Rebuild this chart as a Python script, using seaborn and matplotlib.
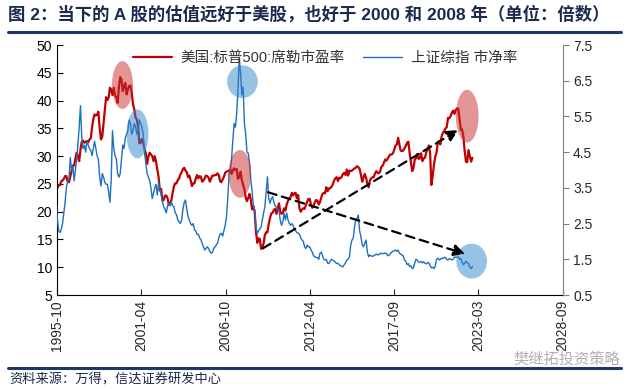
import numpy as np
import pandas as pd
import matplotlib
matplotlib.use("Agg")
import matplotlib.pyplot as plt
import matplotlib.dates as mdates
from matplotlib.patches import Ellipse
import seaborn as sns

# monthly data, 1995-10 .. 2022-11
cape = [
    23.9, 24.3, 24.8,
    24.8, 25.5, 25.6, 25.9, 26.4, 26.4, 25.4, 25.3, 26.3, 27.2, 28.3, 28.3,
    29.6, 30.6, 30.0, 29.1, 31.2, 32.6, 32.8, 32.4, 32.6, 32.7, 32.5, 33.0,
    33.2, 35.2, 36.6, 37.5, 37.3, 37.5, 38.0, 35.0, 33.0, 33.5, 36.0, 38.3,
    40.6, 40.1, 40.5, 42.3, 42.0, 41.0, 42.3, 40.9, 40.6, 39.6, 42.4, 44.2,
    43.8, 41.7, 42.5, 43.2, 41.1, 42.0, 42.6, 42.7, 41.5, 39.3, 38.4, 36.9,
    36.6, 35.1, 32.3, 32.4, 33.1, 32.3, 31.3, 30.5, 28.6, 29.9, 30.6, 30.3,
    30.0, 29.1, 30.0, 29.0, 27.6, 26.2, 23.8, 24.1, 22.0, 22.1, 22.9, 22.9,
    22.4, 21.2, 21.3, 22.1, 23.4, 24.6, 25.1, 25.1, 25.7, 26.0, 26.7, 27.1,
    27.7, 27.9, 27.4, 27.1, 26.2, 26.5, 25.7, 24.6, 25.1, 25.1, 26.0, 26.6,
    26.0, 26.4, 26.3, 25.4, 25.6, 26.0, 26.5, 26.4, 26.1, 25.4, 26.0, 26.5,
    26.5, 26.6, 26.6, 26.9, 26.6, 25.5, 25.3, 25.8, 26.3, 27.0, 27.2, 27.3,
    27.4, 27.6, 26.8, 27.4, 27.8, 27.5, 27.7, 25.9, 26.3, 27.2, 25.6, 24.9,
    24.0, 22.5, 21.9, 22.5, 23.2, 22.2, 20.4, 21.0, 19.9, 16.4, 14.4, 15.2,
    15.1, 13.3, 13.5, 14.3, 15.8, 16.3, 16.3, 17.8, 18.9, 19.7, 19.8, 20.3,
    20.5, 19.6, 20.5, 21.5, 20.0, 19.6, 19.8, 20.6, 20.2, 21.3, 21.9, 22.4,
    22.6, 23.4, 22.9, 23.3, 23.4, 22.4, 23.0, 20.6, 20.0, 20.4, 20.6, 20.5,
    21.2, 21.8, 22.3, 22.3, 21.3, 20.7, 21.1, 21.7, 22.1, 22.0, 21.3, 21.7,
    22.6, 23.2, 23.4, 23.3, 24.4, 23.7, 24.2, 24.2, 24.5, 24.9, 25.6, 26.0,
    26.2, 25.5, 26.1, 26.0, 26.3, 26.8, 27.0, 26.6, 27.6, 26.5, 27.4, 27.3,
    27.4, 27.6, 27.8, 27.9, 28.2, 28.0, 27.7, 26.6, 25.4, 26.2, 26.8, 26.1,
    25.0, 24.4, 25.6, 26.0, 26.2, 26.2, 26.9, 27.3, 27.0, 26.9, 27.3, 28.1,
    28.3, 28.9, 29.4, 29.2, 29.6, 30.0, 30.3, 30.3, 30.5, 31.2, 31.9, 32.1,
    33.3, 32.1, 31.0, 30.9, 31.0, 31.4, 31.8, 32.4, 32.6, 30.6, 28.9, 27.3,
    27.8, 29.4, 29.6, 30.4, 29.5, 29.6, 30.5, 29.1, 29.6, 29.7, 30.7, 31.3,
    31.9, 30.5, 24.8, 26.4, 28.4, 29.9, 30.6, 32.5, 32.7, 32.1, 33.6, 34.2,
    34.5, 35.0, 35.2, 36.9, 36.8, 37.2, 37.8, 38.2, 37.6, 38.3, 38.6, 38.5,
    36.6, 34.7, 34.8, 33.5, 31.0, 29.0, 28.9, 31.1, 30.0, 29.0, 29.7,
]

sse_pb = [
    3.2, 2.6, 2.3,
    2.25, 2.35, 2.5, 2.8, 3.1, 3.5, 3.7, 3.75, 4.35, 4.0, 4.1, 3.7,
    4.0, 4.3, 4.7, 5.2, 5.8, 4.9, 4.6, 4.7, 4.5, 4.8, 4.7, 4.6,
    4.55, 4.4, 4.6, 4.8, 4.6, 4.4, 4.3, 3.8, 3.55, 3.9, 3.8, 3.65,
    3.6, 3.6, 3.4, 3.1, 3.7, 5.1, 4.6, 4.4, 4.3, 3.9, 3.8, 3.9,
    4.3, 4.7, 4.6, 4.9, 5.0, 5.1, 5.4, 5.3, 5.0, 5.1, 5.3, 5.2,
    5.0, 5.1, 5.4, 5.3, 5.2, 5.0, 4.5, 4.2, 3.9, 3.8, 3.7, 3.5,
    3.2, 3.35, 3.5, 3.6, 3.3, 3.65, 3.5, 3.3, 3.1, 2.97, 2.9, 2.8,
    3.0, 3.07, 3.0, 3.1, 3.0, 2.97, 2.8, 2.75, 2.6, 2.55, 2.5, 2.6,
    2.9, 3.1, 3.16, 2.9, 2.7, 2.6, 2.5, 2.45, 2.5, 2.32, 2.3, 2.2,
    2.2, 2.1, 2.05, 1.95, 1.85, 1.76, 1.8, 1.85, 1.8, 1.72, 1.67, 1.7,
    1.8, 1.85, 1.9, 1.95, 2.1, 2.2, 2.23, 2.15, 2.3, 2.45, 2.69, 3.2,
    3.9, 4.0, 4.3, 4.84, 5.3, 5.2, 5.6, 6.24, 7.15, 6.7, 6.1, 6.33,
    5.3, 5.0, 4.5, 4.47, 4.2, 3.72, 3.4, 3.0, 2.88, 2.4, 2.23, 2.3,
    2.35, 2.41, 2.6, 2.8, 2.97, 3.4, 3.81, 3.2, 3.07, 3.2, 3.25, 3.1,
    3.0, 2.95, 2.9, 2.85, 2.6, 2.45, 2.55, 2.79, 2.6, 2.8, 2.6, 2.51,
    2.45, 2.5, 2.45, 2.32, 2.3, 2.25, 2.23, 2.2, 2.1, 2.04, 2.0, 1.85,
    1.8, 1.9, 1.85, 1.85, 1.76, 1.7, 1.6, 1.57, 1.55, 1.55, 1.5, 1.67,
    1.7, 1.6, 1.5, 1.48, 1.5, 1.39, 1.38, 1.45, 1.5, 1.48, 1.45, 1.42,
    1.38, 1.39, 1.35, 1.32, 1.3, 1.29, 1.35, 1.4, 1.48, 1.5, 1.57, 1.9,
    2.04, 2.1, 2.41, 2.6, 2.65, 2.74, 2.3, 2.13, 1.9, 1.85, 1.95, 2.04,
    1.7, 1.57, 1.62, 1.6, 1.58, 1.6, 1.62, 1.65, 1.62, 1.63, 1.67, 1.67,
    1.65, 1.67, 1.67, 1.66, 1.6, 1.62, 1.66, 1.7, 1.72, 1.74, 1.76, 1.72,
    1.76, 1.67, 1.65, 1.62, 1.6, 1.48, 1.45, 1.35, 1.38, 1.3, 1.32, 1.24,
    1.26, 1.4, 1.5, 1.48, 1.42, 1.42, 1.44, 1.4, 1.43, 1.39, 1.37, 1.41,
    1.4, 1.32, 1.26, 1.28, 1.24, 1.3, 1.5, 1.53, 1.48, 1.5, 1.53, 1.52,
    1.55, 1.55, 1.5, 1.48, 1.52, 1.5, 1.48, 1.5, 1.57, 1.55, 1.56, 1.57,
    1.5, 1.52, 1.42, 1.35, 1.39, 1.45, 1.4, 1.39, 1.28, 1.24, 1.3,
]

dates = pd.date_range("1995-10-01", periods=len(cape), freq="MS")
df = pd.DataFrame({"date": dates, "cape": cape, "pb": sse_pb})

label_red = "美国:标普500:席勒市盈率"
label_blue = "上证综指 市净率"

# x axis runs between these two days, 7 evenly spaced ticks
x_start, x_end = "1995-10-21", "2028-09-16"

# highlight ellipses: (center date, center value on left axis, width days, height)
ell_red = [("2000-01-25", 42.8, 500, 8.6), ("2007-09-15", 26.8, 540, 8.6), ("2022-07-01", 37.2, 540, 9.5)]
ell_blue = [("2001-01-15", 34.0, 525, 8.8), ("2007-11-15", 43.4, 730, 5.9), ("2022-10-15", 11.1, 730, 6.3)]

# dashed arrows (start, end) in left-axis values
arrows = [(("2009-03-15", 13.4), ("2021-12-01", 34.7)),
          (("2009-07-15", 23.5), ("2022-05-15", 12.4))]

sns.set_style("white")
plt.rcParams["font.family"] = ["Liberation Sans", "Noto Sans CJK SC", "DejaVu Sans"]

fig = plt.figure(figsize=(6.36, 3.89), dpi=100)
ax = fig.add_axes([0.0896, 0.2416, 0.7951, 0.6427])
ax2 = ax.twinx()

sns.lineplot(data=df, x="date", y="cape", ax=ax, color="#c00000", lw=1.6, label=label_red, legend=False)
sns.lineplot(data=df, x="date", y="pb", ax=ax2, color="#1f6fc0", lw=1.0, label=label_blue, legend=False)

x0 = mdates.date2num(pd.Timestamp(x_start))
x1 = mdates.date2num(pd.Timestamp(x_end))
ax.set_xlim(x0, x1)
ax.set_xticks(np.linspace(x0, x1, 7))
ax.xaxis.set_major_formatter(mdates.DateFormatter("%Y-%m"))
for lbl in ax.get_xticklabels():
    lbl.set_rotation(90)

ax.set_ylim(5, 50)
ax.set_yticks(np.arange(5, 51, 5))
ax2.set_ylim(0.5, 7.5)
ax2.set_yticks(np.arange(0.5, 7.6, 1.0))
ax2.set_yticklabels([f"{v:.1f}" for v in np.arange(0.5, 7.6, 1.0)])

ax.set_xlabel("")
ax.set_ylabel("")
ax2.set_ylabel("")

for a in (ax, ax2):
    a.spines["top"].set_visible(False)
ax.spines["right"].set_visible(False)
ax2.spines["left"].set_visible(False)
ax2.spines["bottom"].set_visible(False)
ax.spines["left"].set_color("black")
ax.spines["bottom"].set_color("black")
ax2.spines["right"].set_color("#808080")
ax.tick_params(axis="y", direction="in", length=4, labelsize=10, colors="black", left=True)
ax.tick_params(axis="x", direction="in", length=4, labelsize=10, bottom=True)
ax2.tick_params(axis="y", direction="out", length=4, labelsize=10, color="#808080", right=True)

# ellipses and arrows drawn on top
for d, v, w, h in ell_red:
    ax2.add_patch(Ellipse((mdates.date2num(pd.Timestamp(d)), v), w, h, transform=ax.transData,
                          facecolor="#c82d2d", alpha=0.5, edgecolor="none", zorder=5))
for d, v, w, h in ell_blue:
    ax2.add_patch(Ellipse((mdates.date2num(pd.Timestamp(d)), v), w, h, transform=ax.transData,
                          facecolor="#2d87cd", alpha=0.5, edgecolor="none", zorder=5))
for (d0, v0), (d1, v1) in arrows:
    ax2.annotate("", xy=(mdates.date2num(pd.Timestamp(d1)), v1), xycoords=ax.transData,
                 xytext=(mdates.date2num(pd.Timestamp(d0)), v0), textcoords=ax.transData,
                 arrowprops=dict(arrowstyle="-|>", ls=(0, (4, 2.5)), color="black", lw=1.6,
                                 mutation_scale=17, shrinkA=0, shrinkB=0), zorder=6)

h1, l1 = ax.get_legend_handles_labels()
h2, l2 = ax2.get_legend_handles_labels()
leg = ax2.legend(h1 + h2, l1 + l2, loc="upper center", bbox_to_anchor=(0.53, 1.03), ncol=2,
                 frameon=False, fontsize=10.5, handlelength=2.7, columnspacing=1.2, handletextpad=0.6)
for t in leg.get_texts():
    t.set_color("#333333")

# title, rules, source
fig.text(0.013, 0.965, "图 2：当下的 A 股的估值远好于美股，也好于 2000 和 2008 年（单位：倍数）",
         fontsize=12.5, fontweight="bold", color="#1c2a4d", va="center", ha="left")
fig.add_artist(plt.Line2D([0.013, 0.977], [0.918, 0.918], color="#1f3864", lw=2.2))
fig.add_artist(plt.Line2D([0.013, 0.977], [0.053, 0.053], color="#1f3864", lw=2.2))
fig.text(0.015, 0.022, "资料来源：万得，信达证券研发中心", fontsize=9.5, color="#1c2a4d", va="center", ha="left",
         style="italic")
fig.text(0.975, 0.075, "樊继拓投资策略", fontsize=11, color="#b0b0b0", va="center", ha="right")

fig.savefig("out.png", dpi=100)
